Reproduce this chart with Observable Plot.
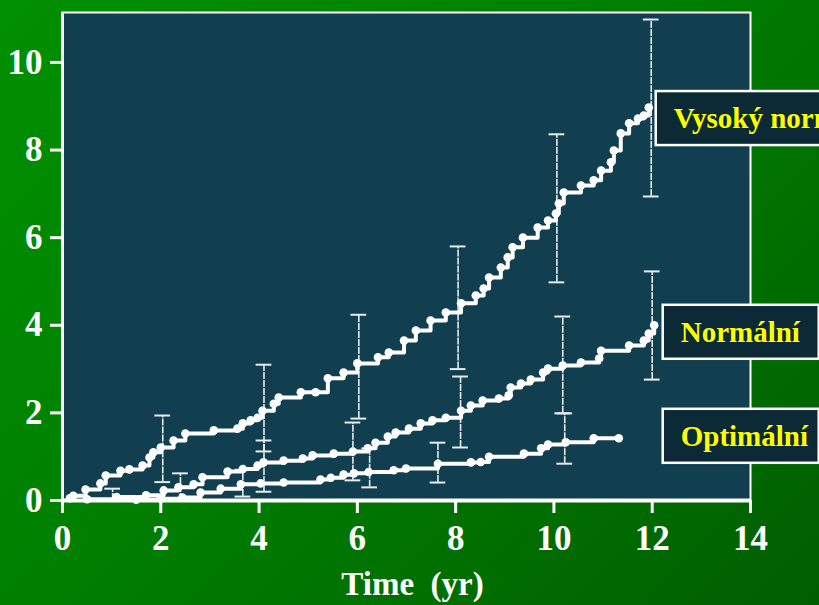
<!DOCTYPE html>
<html><head><meta charset="utf-8">
<script src="https://cdn.jsdelivr.net/npm/d3@7"></script>
<script src="https://cdn.jsdelivr.net/npm/@observablehq/plot@0.6"></script>
<style>
html,body{margin:0;padding:0;overflow:hidden;width:819px;height:605px}
body{background:linear-gradient(135deg,#009000 0%,#007f00 45%,#005e00 100%)}
#chart{position:relative;width:819px;height:605px}
</style></head><body><div id="chart"></div>
<script>
// ---- data ----
const xTicks = [0, 2, 4, 6, 8, 10, 12, 14];
const yTicks = [0, 2, 4, 6, 8, 10];
const seriesNames = ["Vysoký normální", "Normální", "Optimální"];
const axisLabel = "Time\u00a0\u00a0(yr)";

const highX = [0.15,0.22,0.47,0.77,0.88,1.18,1.36,1.63,1.77,1.85,2.0,2.26,2.5,3.08,3.56,3.67,3.83,3.97,4.07,4.30,4.40,4.85,5.15,5.40,5.72,6.0,6.42,6.64,6.95,7.19,7.49,7.80,8.11,8.41,8.57,8.68,8.92,9.06,9.16,9.37,9.67,9.88,10.04,10.10,10.20,10.55,10.81,10.96,11.16,11.22,11.36,11.53,11.71,11.83,11.93];
const highY = [0.05,0.11,0.25,0.39,0.57,0.68,0.71,0.80,0.98,1.10,1.21,1.37,1.53,1.60,1.64,1.76,1.83,1.89,2.05,2.21,2.35,2.47,2.47,2.79,2.92,3.13,3.27,3.38,3.65,3.88,4.11,4.29,4.50,4.68,4.84,5.09,5.32,5.55,5.78,6.0,6.23,6.39,6.55,6.78,7.03,7.19,7.31,7.53,7.72,7.99,8.38,8.61,8.72,8.79,8.97];

const normX = [0.5,1.1,1.7,2.06,2.36,2.67,2.85,3.36,3.67,3.97,4.09,4.5,4.89,5.09,5.52,5.91,6.21,6.37,6.62,6.78,7.05,7.29,7.53,7.80,8.11,8.31,8.55,8.88,9.08,9.12,9.33,9.53,9.78,9.88,10.18,10.55,10.92,10.96,11.53,11.83,11.93,12.04];
const normY = [0.03,0.08,0.12,0.23,0.30,0.37,0.53,0.66,0.72,0.80,0.87,0.91,0.96,1.03,1.07,1.12,1.19,1.32,1.46,1.55,1.64,1.76,1.83,1.89,2.05,2.17,2.28,2.33,2.40,2.58,2.67,2.76,2.92,3.01,3.08,3.15,3.24,3.42,3.54,3.65,3.81,4.0];

const optX = [1.5,2.0,2.44,2.81,3.22,3.63,4.03,4.5,5.25,5.46,5.72,5.93,6.23,6.74,6.99,7.64,8.31,8.51,8.68,9.39,9.74,9.88,10.24,10.81,11.32];
const optY = [0.02,0.04,0.07,0.18,0.27,0.37,0.39,0.41,0.48,0.52,0.59,0.62,0.65,0.69,0.73,0.84,0.87,0.88,1.0,1.07,1.19,1.28,1.33,1.42,1.42];

const errX  = [1.02,2.04,2.4,3.67,4.1,4.1,5.91,6.03,6.25,7.64,8.05,8.1,10.06,10.18,10.22,11.98,12.0];
const errHi = [0.27,1.94,0.62,0.70,3.1,1.37,1.78,4.24,1.19,1.32,5.8,2.83,8.36,4.2,1.99,10.98,5.23];
const errLo = [0.0,0.42,0.0,0.09,1.12,0.2,0.46,1.87,0.3,0.41,3.0,1.21,4.98,1.99,0.84,6.94,2.76];

// ---- build tables ----
const mk = (xs, ys, name) => xs.map((x, i) => ({x, y: ys[i], name}));
const series = [mk(highX, highY, seriesNames[0]), mk(normX, normY, seriesNames[1]), mk(optX, optY, seriesNames[2])];
const allPts = series.flat();
const errs = errX.map((x, i) => ({x, hi: errHi[i], lo: errLo[i]}));
const capHalf = 0.16;

const serif = "'Liberation Serif','Times New Roman',serif";

const plot = Plot.plot({
  width: 819, height: 605,
  marginLeft: 62, marginRight: 69, marginTop: 12, marginBottom: 105,
  style: {background: "transparent", color: "white", fontFamily: serif, overflow: "visible"},
  x: {domain: [0, 14]},
  y: {domain: [0, 11.14]},
  marks: [
    Plot.frame({fill: "#123f4f", stroke: "white", strokeWidth: 2}),
    Plot.ruleX(errs, {x: "x", y1: "lo", y2: "hi", stroke: "#e6edf0", strokeWidth: 1.6, strokeDasharray: "7,1"}),
    Plot.ruleY(errs, {y: "hi", x1: d => d.x - capHalf, x2: d => d.x + capHalf, stroke: "#e6edf0", strokeWidth: 2}),
    Plot.ruleY(errs, {y: "lo", x1: d => d.x - capHalf, x2: d => d.x + capHalf, stroke: "#e6edf0", strokeWidth: 2}),
    Plot.line(allPts, {x: "x", y: "y", z: "name", curve: "step-after", stroke: "white", strokeWidth: 4}),
    Plot.dot(allPts, {x: "x", y: "y", r: 4.3, fill: "white"}),
    Plot.ruleX([0], {stroke: "white", strokeWidth: 3}),
    Plot.ruleY([0], {stroke: "white", strokeWidth: 4}),
    Plot.axisX({ticks: xTicks, tickSize: 13, tickPadding: 12, stroke: "white", strokeWidth: 3, fill: "white",
      fontSize: 35, fontWeight: "bold", fontFamily: serif, label: null}),
    Plot.axisY({ticks: yTicks, tickSize: 12, tickPadding: 8, stroke: "white", strokeWidth: 3, fill: "white",
      fontSize: 35, fontWeight: "bold", fontFamily: serif, label: null}),
    Plot.text([axisLabel], {frameAnchor: "bottom", dy: 94, dx: 6, fill: "white", fontSize: 33, fontWeight: "bold", fontFamily: serif})
  ]
});
document.getElementById("chart").appendChild(plot);

// ---- series label boxes, placed with the plot's scales ----
const sx = plot.scale("x"), sy = plot.scale("y");
const svg = d3.select(plot);
const boxes = [
  {name: seriesNames[0], left: sx.apply(12) + 4, cy: sy.apply(highY[highY.length - 1]) + 11, w: 240},
  {name: seriesNames[1], left: sx.apply(12) + 11, cy: sy.apply(normY[normY.length - 1]) + 7, w: 156},
  {name: seriesNames[2], left: sx.apply(12) + 11, cy: sy.apply(optY[optY.length - 1]) - 2, w: 156}
];
const g = svg.append("g");
for (const b of boxes) {
  g.append("rect").attr("x", b.left).attr("y", b.cy - 27).attr("width", b.w).attr("height", 54)
    .attr("fill", "#0b2a35").attr("stroke", "white").attr("stroke-width", 2.5);
  g.append("text").attr("x", b.left + 18).attr("y", b.cy + 10).text(b.name)
    .attr("text-anchor", "start")
    .attr("fill", "#ffff00").attr("font-family", serif).attr("font-weight", "bold").attr("font-size", 29);
}
</script>
</body></html>
